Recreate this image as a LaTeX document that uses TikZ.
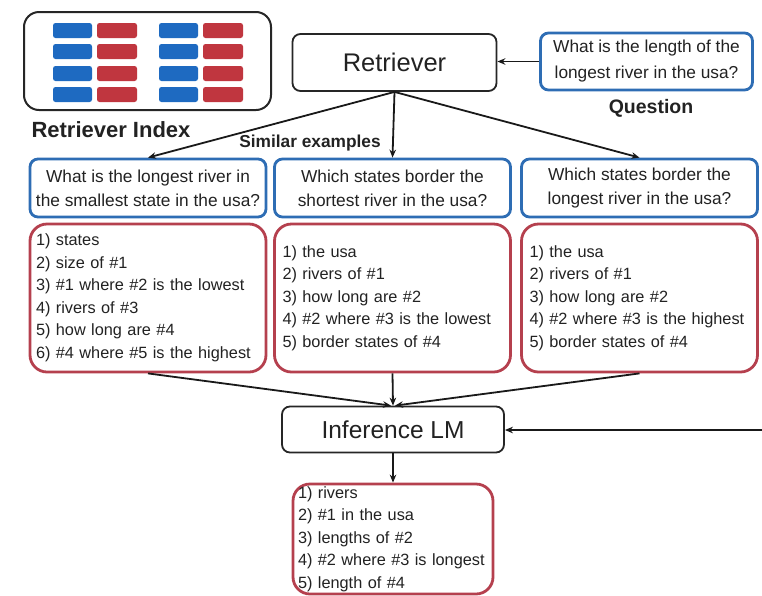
\documentclass[tikz,border=0pt]{standalone}
\usepackage{fontspec}
\setmainfont{Liberation Sans}
\usetikzlibrary{arrows.meta}
\definecolor{qblue}{HTML}{2E6DB4}
\definecolor{dred}{HTML}{B5404E}
\definecolor{iblue}{HTML}{1E6AC1}
\definecolor{ired}{HTML}{C0363F}
\definecolor{txt}{HTML}{222222}
\tikzset{
  blackbox/.style={draw=black!85, line width=1.8pt, rounded corners=8pt, fill=white, inner sep=0pt, text=txt},
  qbox/.style={draw=qblue, line width=2.8pt, rounded corners=8pt, fill=white, align=center, inner sep=0pt, text=txt,
    minimum width=236pt, minimum height=58pt, font=\fontsize{17.3}{24}\selectfont},
  dbox/.style={draw=dred, line width=2.8pt, rounded corners=17pt, fill=white, align=left, inner xsep=6pt, inner ysep=0pt, text=txt,
    font=\fontsize{16.3}{22.5}\selectfont},
  conn/.style={draw=black!90, line width=1.8pt, -{Stealth[length=8pt,width=6.5pt]}},
  iblk/.style={fill=iblue, rounded corners=2.5pt, minimum width=39pt, minimum height=15pt, inner sep=0pt},
  irdk/.style={fill=ired, rounded corners=2.5pt, minimum width=40pt, minimum height=15pt, inner sep=0pt},
  lbl/.style={font=\bfseries, inner sep=0pt, text=txt}
}
\begin{document}
\begin{tikzpicture}[x=1pt,y=-1pt]
\useasboundingbox (0,0) rectangle (762,595);
% retriever index
\node[blackbox, line width=2pt, rounded corners=15pt, minimum width=247pt, minimum height=98pt] (idx) at (147.5,61) {};
\foreach \r/\yy in {1/30.5,2/51.5,3/73.5,4/94.5}{
  \node[iblk] (ib1\r) at (72.5,\yy) {};
  \node[irdk] (ir1\r) at (117,\yy) {};
  \node[iblk] (ib2\r) at (178.5,\yy) {};
  \node[irdk] (ir2\r) at (223,\yy) {};
}
\node[lbl, font=\fontsize{22}{26}\selectfont\bfseries] (idxlbl) at (111,130) {Retriever Index};
% retriever
\node[blackbox, minimum width=204pt, minimum height=57pt, font=\fontsize{25.5}{30}\selectfont] (ret) at (394.5,62.5) {Retriever};
% question
\node[qbox, minimum width=212pt, minimum height=57pt, font=\fontsize{17.3}{26}\selectfont] (q) at (646.5,61.5) {What is the length of the\\longest river in the usa?};
\node[lbl, font=\fontsize{19.5}{23}\selectfont\bfseries] (qlbl) at (651,108) {Question};
\node[lbl, font=\fontsize{17.3}{20}\selectfont\bfseries] (sim) at (310,143) {Similar examples};
% example questions
\node[qbox] (q1) at (148,188) {What is the longest river in\\the smallest state in the usa?};
\node[qbox] (q2) at (392.5,188) {Which states border the\\shortest river in the usa?};
\node[qbox] (q3) at (639.5,188) {Which states border the\\longest river in the usa?};
% decompositions
\node[dbox, minimum width=236pt, minimum height=148pt, text width=224pt] (d1) at (148,298) {1) states\\2) size of \#1\\3) \#1 where \#2 is the lowest\\4) rivers of \#3\\5) how long are \#4\\6) \#4 where \#5 is the highest};
\node[dbox, minimum width=236pt, minimum height=148pt, text width=220pt, inner xsep=8pt] (d2) at (392.5,298) {1) the usa\\2) rivers of \#1\\3) how long are \#2\\4) \#2 where \#3 is the lowest\\5) border states of \#4};
\node[dbox, minimum width=236pt, minimum height=148pt, text width=220pt, inner xsep=8pt] (d3) at (639.5,298) {1) the usa\\2) rivers of \#1\\3) how long are \#2\\4) \#2 where \#3 is the highest\\5) border states of \#4};
% inference
\node[blackbox, minimum width=222pt, minimum height=46pt, font=\fontsize{24.5}{29}\selectfont] (inf) at (393,429.5) {Inference LM};
\node[dbox, minimum width=200pt, minimum height=110pt, text width=190pt, inner xsep=5pt] (out) at (393,539) {1) rivers\\2) \#1 in the usa\\3) lengths of \#2\\4) \#2 where \#3 is longest\\5) length of \#4};
\coordinate (rin) at (762,430);
% connectors
\draw[conn] (q.west) -- (ret.east |- q.west);
\draw[conn] (ret.south) -- (q1.north);
\draw[conn] (ret.south) -- (q2.north);
\draw[conn] (ret.south) -- (q3.north);
\draw[conn] (d1.south) -- ([xshift=-2pt]inf.north);
\draw[conn] (d2.south) -- (inf.north);
\draw[conn] (d3.south) -- ([xshift=2pt]inf.north);
\draw[conn] (rin) -- (inf.east |- rin);
\draw[conn] (inf.south) -- (out.north);
\end{tikzpicture}
\end{document}
